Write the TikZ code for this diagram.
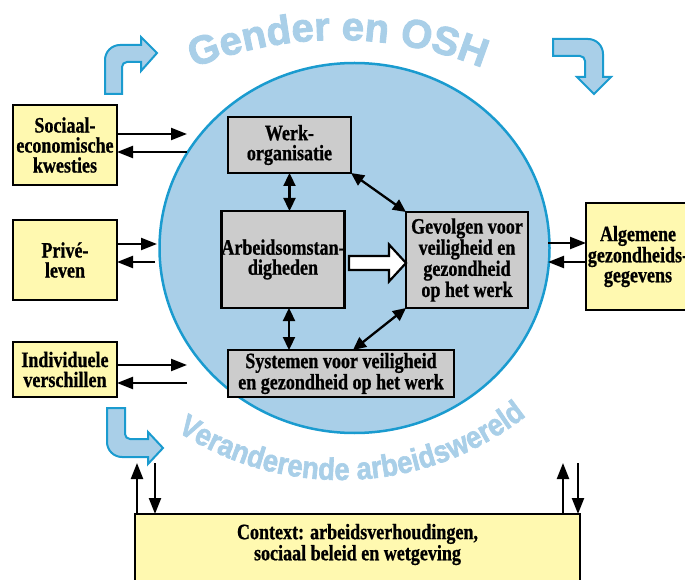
\documentclass[tikz,border=0pt]{standalone}
\usepackage{fontspec}
\usetikzlibrary{arrows.meta, decorations.text}
\newfontfamily\boxfont{Liberation Serif Bold}[FakeStretch=0.82, FakeBold=0.8]
\newfontfamily\titlefont{Liberation Sans Bold}[FakeBold=2.2]
\newfontfamily\worldfont{Liberation Sans Bold}[FakeStretch=0.88, FakeBold=2]
\newcommand\titlestyle{\titlefont\fontsize{40}{40}\selectfont}
\newcommand\worldstyle{\worldfont\fontsize{31}{31}\selectfont}
\definecolor{worldfill}{HTML}{A9CFE8}
\definecolor{worldline}{HTML}{1A9BCF}
\definecolor{factorfill}{HTML}{FFF9B0}
\definecolor{innerfill}{HTML}{CCCCCC}

\begin{document}
\begin{tikzpicture}[x=1pt, y=1pt,
        factor/.style = {draw, line width=2.5pt, fill=factorfill, align=center, inner sep=0pt, outer sep=0pt,
                font=\boxfont\fontsize{22}{20}\selectfont},
        inner/.style = {factor, fill=innerfill},
        arr/.style = {line width=2.3pt, -{Triangle[length=16pt, width=12pt]}},
        dbl/.style = {line width=2.3pt, {Triangle[length=13pt, width=12pt]}-{Triangle[length=13pt, width=12pt]}},
        bent/.style = {draw=worldline, fill=worldfill, line width=2pt}]
                \useasboundingbox (0, 0) rectangle (685, 579);
                \clip (0, 0) rectangle (685, 579);

                % the world of work
                \draw[worldline, fill=worldfill, line width=2.5pt] (354.5, 331) ellipse [x radius=195, y radius=185];

                \path[decorate, decoration={text along path, text align=center, text color=worldfill,
                        text={|\titlestyle|Gender en OSH}}] (338, 152) ++(115:387) arc[start angle=115, end angle=65, radius=387];
                \path[decorate, decoration={text along path, text align=center, text color=worldfill,
                        text={|\worldstyle|Veranderende arbeidswereld}}] (341, 399) ++(-128:300) arc[start angle=-128, end angle=-47, radius=300];

                % bent arrows
                \draw[bent] (105, 485) -- (105, 519) arc[start angle=180, end angle=90, radius=15] -- (141, 534) -- (141, 542)
                        -- (157, 526) -- (141, 508) -- (141, 517) -- (127, 517) arc[start angle=90, end angle=180, radius=5] -- (122, 485) -- cycle;
                \draw[bent] (553, 540) -- (588, 540) arc[start angle=90, end angle=0, radius=15] -- (603, 502) -- (611, 502)
                        -- (594, 485) -- (577, 502) -- (585, 502) -- (585, 518) arc[start angle=0, end angle=90, radius=5] -- (553, 523) -- cycle;
                \draw[bent] (107, 171) -- (107, 137) arc[start angle=180, end angle=270, radius=15] -- (148, 122) -- (148, 115)
                        -- (163, 131) -- (148, 147) -- (148, 140) -- (130, 140) arc[start angle=270, end angle=180, radius=5] -- (125, 171) -- cycle;

                \node[factor, minimum width=104pt, minimum height=80pt] at (65, 434) (soc) {Sociaal-\\economische\\kwesties};
                \node[factor, minimum width=104pt, minimum height=80pt] at (65, 319) (priv) {Privé-\\leven};
                \node[factor, minimum width=104pt, minimum height=55pt] at (65, 209.5) (ind) {Individuele\\verschillen};
                \node[factor, minimum width=104pt, minimum height=107pt] at (638, 322.5) (alg) {Algemene\\gezondheids-\\gegevens};
                \node[factor, minimum width=445pt, minimum height=61pt] at (357.5, 34.5) (ctx) {Context: arbeidsverhoudingen,\\sociaal beleid en wetgeving};
                % open bottom of the context box
                \fill[factorfill] ([shift={(1.25pt, 1.3pt)}]ctx.south west) rectangle ([shift={(-1.25pt, -12pt)}]ctx.south east);
                \draw[line width=2.5pt] (ctx.south west) -- +(0, -12) (ctx.south east) -- +(0, -12);

                \node[inner, minimum width=123pt, minimum height=56pt] at (289.5, 434) (werk) {Werk-\\organisatie};
                \node[inner, minimum width=122pt, minimum height=97pt] at (283, 319.5) (arb) {Arbeidsomstan-\\digheden};
                \node[inner, minimum width=122pt, minimum height=96pt] at (467, 319) (gev) {Gevolgen voor\\veiligheid en\\gezondheid\\op het werk};
                \node[inner, minimum width=226pt, minimum height=47pt] at (341, 205.5) (sys) {Systemen voor veiligheid\\en gezondheid op het werk};

                \draw[arr] ([yshift=11pt]soc.east) -- +(70, 0);
                \draw[arr] ([shift={(70pt, -7pt)}]soc.east) -- ([yshift=-7pt]soc.east);
                \draw[arr] ([yshift=16pt]priv.east) -- +(40, 0);
                \draw[arr] ([shift={(38pt, -2pt)}]priv.east) -- ([yshift=-2pt]priv.east);
                \draw[arr] ([yshift=4.5pt]ind.east) -- +(70, 0);
                \draw[arr] ([shift={(70pt, -13.5pt)}]ind.east) -- ([yshift=-13.5pt]ind.east);
                \draw[arr] ([shift={(-38pt, 13.5pt)}]alg.west) -- ([yshift=13.5pt]alg.west);
                \draw[arr] ([yshift=-5.5pt]alg.west) -- +(-38, 0);

                \draw[arr] ([xshift=-220.5pt]ctx.north) -- +(0, 51);
                \draw[arr] ([shift={(-202.5pt, 51pt)}]ctx.north) -- ([xshift=-202.5pt]ctx.north);
                \draw[arr] ([xshift=205.5pt]ctx.north) -- +(0, 51);
                \draw[arr] ([shift={(220.5pt, 51pt)}]ctx.north) -- ([xshift=220.5pt]ctx.north);

                \draw[dbl] (werk.south) -- (werk.south |- arb.north);
                \draw[dbl] ([xshift=6pt]arb.south) -- ([xshift=6pt]arb.south |- sys.north);
                \draw[dbl] (werk.south east) -- (gev.north west);
                \draw[dbl] ([xshift=12pt]sys.north) -- (gev.south west);

                \draw[line width=2.2pt, fill=white] ([yshift=-3pt]gev.west) -- ++(-17, 18.5) -- ++(0, -11.5) -- ++(-40, 0)
                        -- ++(0, -14) -- ++(40, 0) -- ++(0, -11.5) -- cycle;
            \end{tikzpicture}
\end{document}
